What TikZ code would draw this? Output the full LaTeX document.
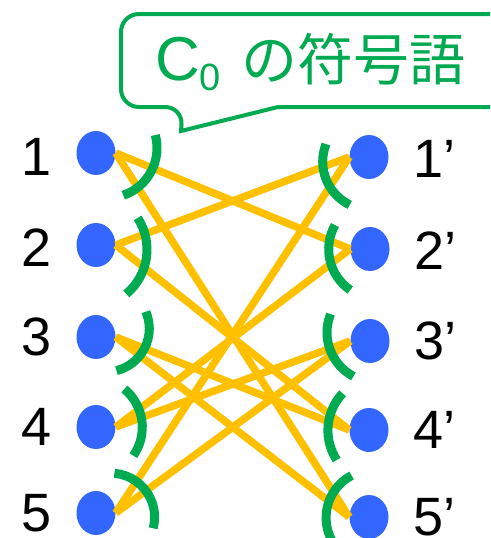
\documentclass[tikz,border=0pt]{standalone}
\usepackage{fontspec}
\setmainfont{Liberation Sans}
\newfontfamily\jpfont{Noto Sans CJK JP}
\usepackage{tikz}
\usetikzlibrary{positioning, shapes.geometric}
\definecolor{dotblue}{RGB}{51,102,255}
\definecolor{linkyellow}{RGB}{255,192,0}
\definecolor{markgreen}{RGB}{0,170,80}

\begin{document}
\begin{tikzpicture}[
  x=1pt, y=-1pt,
  dot/.style={ellipse, fill=dotblue, minimum width=39pt, minimum height=44pt, inner sep=0pt},
  link/.style={draw=linkyellow, line width=7.5pt},
  cut/.style={draw=markgreen, line width=9pt},
  num/.style={font=\fontsize{54}{54}\selectfont, inner sep=0pt},
  title/.style={text=markgreen, inner sep=0pt, font=\fontsize{62}{62}\selectfont},
  bubble/.style={draw=markgreen, line width=4pt, line join=miter}
]
\useasboundingbox (0,0) rectangle (490,538);
\clip (0,0) rectangle (490,538);

% --- Speech bubble ---
\draw[bubble, rounded corners=18pt] (278,107) -- (510,107) -- (510,14) -- (121,14)
  -- (121,107) -- (183,107) [sharp corners] -- (181,131) -- cycle;
\node[title, anchor=base west] (code) at (155,80)
  {C\raisebox{-10pt}{\fontsize{38}{38}\selectfont 0}\hspace{20pt}{\jpfont\fontsize{56}{56}\selectfont の符号語}};

% --- Nodes ---
\node[dot] (l1) at (96,153) {};
\node[dot] (l2) at (96,245) {};
\node[dot] (l3) at (96,337) {};
\node[dot] (l4) at (96,427) {};
\node[dot] (l5) at (96,513) {};
\node[dot] (r1) at (369,157) {};
\node[dot] (r2) at (370,249) {};
\node[dot] (r3) at (370,341) {};
\node[dot] (r4) at (369,430) {};
\node[dot] (r5) at (369,517) {};

% --- Labels ---
\node[num, left=24.5pt of l1, yshift=-4pt] (n1) {1};
\node[num, left=24.5pt of l2, yshift=-3pt] (n2) {2};
\node[num, left=24.5pt of l3] (n3) {3};
\node[num, left=24.5pt of l4] (n4) {4};
\node[num, left=24.5pt of l5] (n5) {5};
\node[num, right=24.5pt of r1, yshift=-2pt] (m1) {1’};
\node[num, right=24.5pt of r2, yshift=-2pt] (m2) {2’};
\node[num, right=24.5pt of r3] (m3) {3’};
\node[num, right=24.5pt of r4] (m4) {4’};
\node[num, right=24.5pt of r5] (m5) {5’};

% --- Links ---
\draw[link] (l1.east) -- (r2.west);
\draw[link] (l1.east) -- (r5.west);
\draw[link] (l2.east) -- (r1.west);
\draw[link] (l2.east) -- (r4.west);
\draw[link] (l3.east) -- (r4.west);
\draw[link] (l3.east) -- (r5.west);
\draw[link] (l4.east) -- (r2.west);
\draw[link] (l4.east) -- (r3.west);
\draw[link] (l5.east) -- (r1.west);
\draw[link] (l5.east) -- (r3.west);

% --- Cut marks (left) ---
\draw[cut] (107,148) ++(-15:50) arc[start angle=-15, end angle=71, radius=50];
\draw[cut] (89,249.5) ++(-33:58) arc[start angle=-33, end angle=50, radius=58];
\draw[cut] (106,328.6) ++(-23:43.3) arc[start angle=-23, end angle=76, radius=43.3];
\draw[cut] (92.7,427.2) ++(-50.4:49.6) arc[start angle=-50.4, end angle=35, radius=49.6];
\draw[cut] (110.6,517.1) ++(-85:44) arc[start angle=-85, end angle=14.7, radius=44];

% --- Cut marks (right) ---
\draw[cut] (370.8,161.6) ++(201.4:48.1) arc[start angle=201.4, end angle=115.9, radius=48.1];
\draw[cut] (378.1,249.2) ++(209.3:49.4) arc[start angle=209.3, end angle=124.3, radius=49.4];
\draw[cut] (376.6,332.5) ++(201.8:49.6) arc[start angle=201.8, end angle=117.8, radius=49.6];
\draw[cut] (381.8,430.4) ++(223.5:53.9) arc[start angle=223.5, end angle=146.7, radius=53.9];
\draw[cut] (373.9,517.8) ++(242.2:47.8) arc[start angle=242.2, end angle=150, radius=47.8];

\end{tikzpicture}
\end{document}
